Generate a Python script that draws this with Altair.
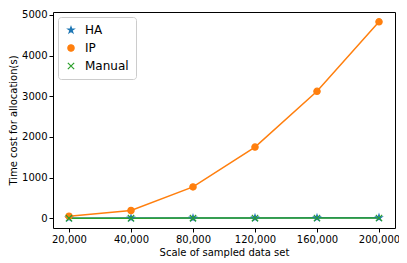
import altair as alt
import pandas as pd

scales = ["20,000", "40,000", "80,000", "120,000", "160,000", "200,000"]
ha = [1, 2, 4, 6, 9, 12]
ip = [50, 190, 770, 1750, 3120, 4830]
manual = [0.5, 1, 2, 3, 4, 5]
series = ["HA", "IP", "Manual"]
colors = ["#1f77b4", "#ff7f0e", "#2ca02c"]
y_ticks = [0, 1000, 2000, 3000, 4000, 5000]

STAR = ("M0,-1L0.223,-0.307L0.951,-0.309L0.361,0.117L0.588,0.809L0,0.38"
        "L-0.588,0.809L-0.361,0.117L-0.951,-0.309L-0.223,-0.307Z")
XSHAPE = "M-1,-1L1,1M1,-1L-1,1"
shapes = [STAR, "circle", XSHAPE]

rows = []
for name, vals in zip(series, [ha, ip, manual]):
    for s, v in zip(scales, vals):
        rows.append({"scale": s, "time": v, "series": name})
df = pd.DataFrame(rows)

x = alt.X("scale:N", sort=scales,
          scale=alt.Scale(type="point", padding=0.258),
          axis=alt.Axis(title="Scale of sampled data set", labelAngle=0))
y = alt.Y("time:Q",
          scale=alt.Scale(domain=[-241, 5071], nice=False, zero=False),
          axis=alt.Axis(values=y_ticks, format="d", title="Time cost for allocation(s)"))

sc = alt.Scale(domain=series, range=colors)
leg = alt.Legend(title=None)

line = alt.Chart(df).mark_line(strokeWidth=1.5).encode(
    x=x, y=y,
    stroke=alt.Stroke("series:N", scale=sc, legend=leg),
)
pts = alt.Chart(df).mark_point(filled=True, size=40, strokeWidth=1.2, opacity=1).encode(
    x=x, y=y,
    fill=alt.Fill("series:N", scale=sc, legend=leg),
    stroke=alt.Stroke("series:N", scale=sc, legend=leg),
    shape=alt.Shape("series:N", scale=alt.Scale(domain=series, range=shapes), legend=leg),
)

chart = alt.layer(line, pts).properties(
    width=342, height=216,
    autosize=alt.AutoSizeParams(type="none"),
    padding={"left": 45, "top": 4, "right": 4, "bottom": 35},
).configure_view(
    stroke="black", strokeWidth=1
).configure_axis(
    domain=False, grid=False, ticks=True, tickSize=4, tickColor="black",
    labelFont="DejaVu Sans", labelFontSize=10, labelColor="black", labelPadding=2,
    titleFont="DejaVu Sans", titleFontSize=10, titleFontWeight="normal", titleColor="black",
    titlePadding=3,
).configure_legend(
    orient="top-left", offset=5, fillColor="white", strokeColor="#cccccc",
    cornerRadius=3, padding=7, rowPadding=6, labelFont="DejaVu Sans",
    labelFontSize=12, labelColor="black", symbolSize=40, symbolStrokeWidth=1.2,
    labelOffset=8,
)

chart.save("out.html", embed_options={"renderer": "svg", "actions": False})
